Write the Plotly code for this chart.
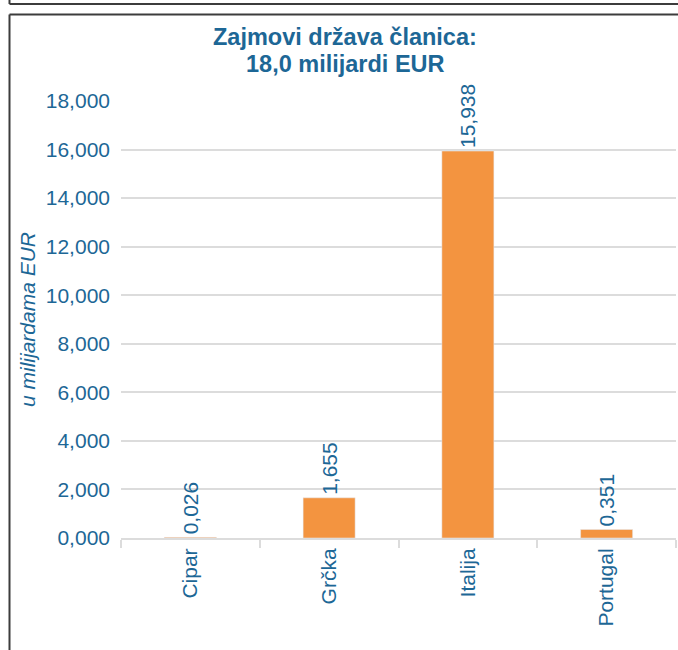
import plotly.graph_objects as go

countries = ["Cipar", "Grčka", "Italija", "Portugal"]
loans = [0.026, 1.655, 15.938, 0.351]
title_lines = ["Zajmovi država članica:", "18,0 milijardi EUR"]

blue = "#1d6796"
orange = "#f39440"
grid = "#dcdcdc"
font_family = "Liberation Sans, Arial, sans-serif"

W, H = 678, 650
L, R, T, B = 121, 2, 101, 112


def px(x):
    return (x - L) / (W - L - R)


def py(y):
    return (H - B - y) / (H - T - B)


fig = go.Figure(go.Bar(
    x=countries, y=loans,
    marker_color=orange,
    texttemplate="%{y:.3f}",
    textposition="outside",
    textangle=-90,
    textfont=dict(family=font_family, size=21, color=blue),
    constraintext="none",
    cliponaxis=False,
))

frame = dict(color="#3c3c3c", width=2)
fig.add_shape(type="line", xref="paper", yref="paper",
              x0=px(9.5), x1=px(W + 5), y0=py(4), y1=py(4), line=frame)
fig.add_shape(type="line", xref="paper", yref="paper",
              x0=px(9.5), x1=px(9.5), y0=py(-5), y1=py(4), line=frame)
fig.add_shape(type="line", xref="paper", yref="paper",
              x0=px(9.5), x1=px(W + 5), y0=py(14.5), y1=py(14.5), line=frame)
fig.add_shape(type="line", xref="paper", yref="paper",
              x0=px(9.5), x1=px(9.5), y0=py(14.5), y1=py(H + 5), line=frame)

# two title lines as annotations, for tighter line spacing
for line, yc in zip(title_lines, [37, 64]):
    fig.add_annotation(text=f"<b>{line}</b>", xref="paper", yref="paper",
                       x=px(345), y=py(yc), xanchor="center", yanchor="middle",
                       showarrow=False,
                       font=dict(family=font_family, size=23.5, color=blue))

tick_font = dict(family=font_family, size=21, color=blue)

fig.update_layout(
    width=W, height=H,
    margin=dict(l=L, r=R, t=T, b=B),
    paper_bgcolor="white", plot_bgcolor="white",
    separators=",.",
    font=dict(family=font_family, color=blue, size=21),
    bargap=0.625,
    showlegend=False,
)
fig.update_xaxes(type="category", tickangle=-90, tickson="boundaries",
                 ticks="outside", ticklen=8, tickwidth=2, tickcolor=grid,
                 showline=True, linecolor=grid, linewidth=2, showgrid=False,
                 tickfont=tick_font, automargin=False)
fig.update_yaxes(range=[0, 18], dtick=2, tickformat=".3f",
                 showgrid=True, gridcolor=grid, gridwidth=2, zeroline=False,
                 ticklabelstandoff=10, tickfont=tick_font, automargin=False,
                 title=dict(text="<i>u milijardama EUR</i>", standoff=4,
                            font=tick_font))

# page body has an 8px default margin; drop it so the figure sits at 0,0
fig.write_html("out.html", config={"displayModeBar": False},
               post_script="document.body.style.margin='0';")
